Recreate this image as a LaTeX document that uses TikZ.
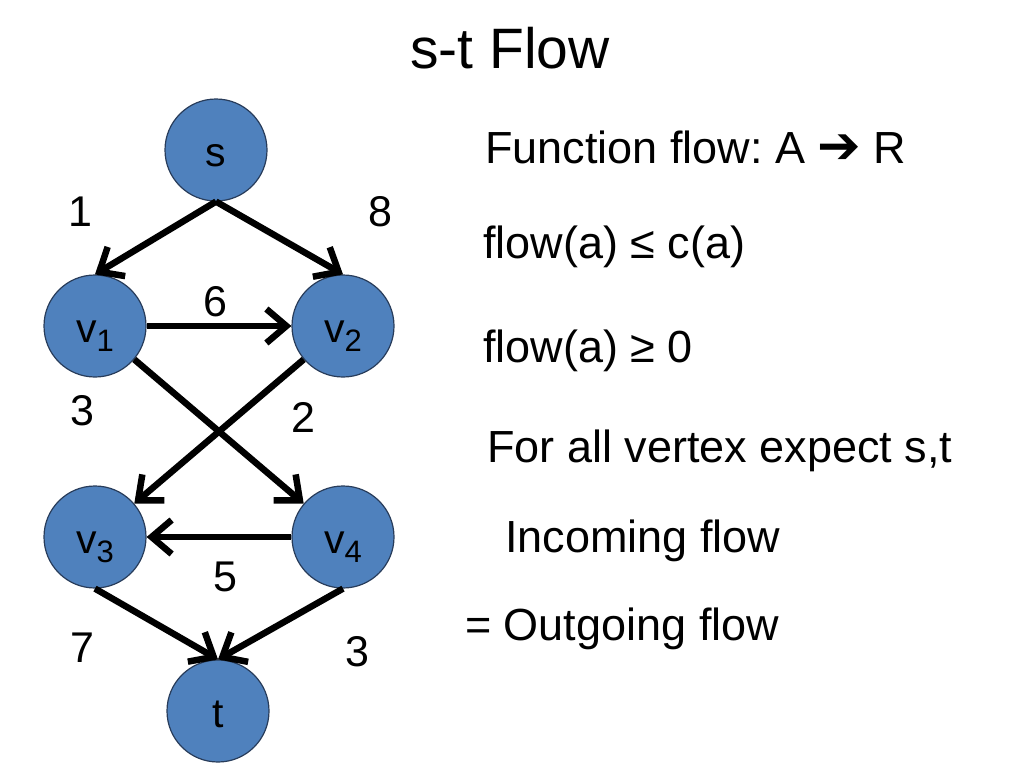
\documentclass[tikz,border=0pt]{standalone}
\usepackage{fontspec}
\setmainfont{Liberation Sans}
\newfontfamily\arrowfont{DejaVu Sans}
\usepackage{tikz}
\usetikzlibrary{positioning,arrows.meta}
\frenchspacing
\definecolor{nodeblue}{RGB}{79,129,189}
\definecolor{nodeedge}{RGB}{40,60,90}
\newcommand{\vsub}[1]{\raisebox{-9pt}{\fontsize{31}{31}\selectfont #1}}
\tikzset{
vertex/.style={
  circle,
  draw=nodeedge,
  line width=1.2pt,
  fill=nodeblue,
  minimum size=102pt,
  inner sep=0pt,
  font=\fontsize{41}{41}\selectfont,
  text height=32pt,
  text depth=0pt
  },
wt/.style={font=\fontsize{43}{43}\selectfont},
txt/.style={
  anchor=base west,
  inner sep=0pt,
  font=\fontsize{45}{45}\selectfont
  },
line/.style={-{Straight Barb[length=20pt,width=34pt]}, line width=6.5pt}
}

\begin{document}
\begin{tikzpicture}[x=1pt,y=-1pt]
\useasboundingbox (0,0) rectangle (1024,768);
\node[anchor=base, font=\fontsize{57}{57}\selectfont](title) at (510,68){s-t Flow};
% graph
\node[vertex](s) at (216,150){s};
\node[vertex](v1) at (95,326){v\vsub{1}};
\node[vertex](v2) at (343,326){v\vsub{2}};
\node[vertex](v3) at (95,537){v\vsub{3}};
\node[vertex](v4) at (343,537){v\vsub{4}};
\node[vertex](t) at (218,711){t};
\draw[line] (s.south) -- node[wt, xshift=-75pt, yshift=26pt] {1} (v1.north);
\draw[line] (s.south) -- node[wt, xshift=101pt, yshift=26pt] {8} (v2.north);
\draw[line] (v1.east) -- node[wt, xshift=-4pt, yshift=24pt] {6} (v2.west);
\draw[line] (v1) -- node[wt, xshift=84pt, yshift=14pt] {2} (v4);
\draw[line] (v2) -- node[wt, xshift=-137pt, yshift=21pt] {3} (v3);
\draw[line] (v4.west) -- node[wt, xshift=6pt, yshift=-40pt] {5} (v3.east);
\draw[line] (v3.south) -- node[wt, xshift=-74pt, yshift=-24pt] {7} (t.north);
\draw[line] (v4.south) -- node[wt, xshift=77pt, yshift=-28pt] {3} (t.north);
% constraints
\node[txt](fn) at (485,163){Function flow: A {\arrowfont\fontsize{52}{52}\selectfont ➔} R};
\node[txt](cap) at (483,258){flow(a) ≤ c(a)};
\node[txt](pos) at (483,362){flow(a) ≥ 0};
\node[txt](cons) at (487,462){For all vertex expect s,t};
\node[txt](inc) at (505,552){Incoming flow};
\node[txt](out) at (465,640){= Outgoing flow};
\end{tikzpicture}
\end{document}
